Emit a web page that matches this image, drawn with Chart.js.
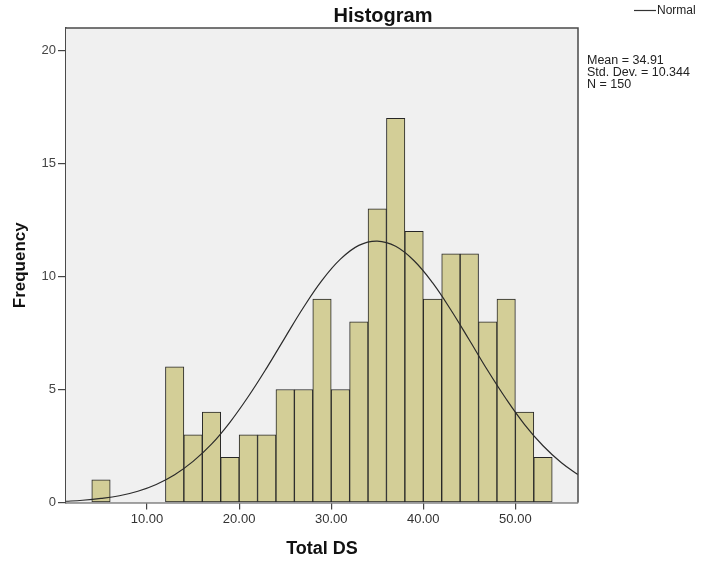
<!DOCTYPE html>
<html>
<head>
<meta charset="utf-8">
<script src="https://cdn.jsdelivr.net/npm/chart.js@4.4.0/dist/chart.umd.min.js"></script>
<style>
  html, body { margin: 0; padding: 0; background: #ffffff; }
  #wrap { width: 701px; height: 561px; }
</style>
</head>
<body>
<div id="wrap"><canvas id="c" width="701" height="561"></canvas></div>
<script>
// ---- Data ----
const binCenters = [5, 7, 9, 11, 13, 15, 17, 19, 21, 23, 25, 27, 29, 31, 33, 35, 37, 39, 41, 43, 45, 47, 49, 51, 53];
const binCounts  = [1, 0, 0, 0, 6, 3, 4, 2, 3, 3, 5, 5, 9, 5, 8, 13, 17, 12, 9, 11, 11, 8, 9, 4, 2];
const curveX = [1, 3, 5, 7, 9, 11, 13, 15, 17, 19, 21, 23, 25, 27, 29, 31, 33, 35, 37, 39, 41, 43, 45, 47, 49, 51, 53, 55, 57];
const curveY = [0.05, 0.10, 0.18, 0.30, 0.50, 0.80, 1.23, 1.82, 2.58, 3.55, 4.69, 5.96, 7.31, 8.64, 9.83, 10.77, 11.38, 11.57, 11.34, 10.70, 9.73, 8.52, 7.19, 5.84, 4.58, 3.45, 2.51, 1.76, 1.18];
const xTicks = [10, 20, 30, 40, 50];
const yTicks = [0, 5, 10, 15, 20];
const statLines = ["Mean = 34.91", "Std. Dev. = 10.344", "N = 150"];
const chartTitle = "Histogram";
const xTitle = "Total DS";
const yTitle = "Frequency";
const legendLabel = "Normal";

const barData = binCenters.map((x, i) => ({ x: x, y: binCounts[i] })).filter(p => p.y > 0);
const lineData = curveX.map((x, i) => ({ x: x, y: curveY[i] }));

const FONT = "'Liberation Sans', Arial, sans-serif";

const decor = {
  id: 'decor',
  beforeDatasetsDraw(chart) {
    const { ctx, chartArea: a } = chart;
    ctx.save();
    ctx.fillStyle = '#f0f0f0';
    ctx.fillRect(a.left, a.top, a.right - a.left, a.bottom - a.top);
    ctx.restore();
  },
  afterDraw(chart) {
    const { ctx, chartArea: a } = chart;
    ctx.save();
    // frame top & right
    ctx.strokeStyle = '#4a4a4a';
    ctx.lineWidth = 1.5;
    ctx.beginPath();
    ctx.moveTo(a.left, a.top);
    ctx.lineTo(a.right, a.top);
    ctx.lineTo(a.right, a.bottom);
    ctx.stroke();
    // title
    ctx.fillStyle = '#111';
    ctx.font = "bold 20px " + FONT;
    ctx.textAlign = 'center';
    ctx.textBaseline = 'alphabetic';
    ctx.fillText(chartTitle, 383, 22);
    // legend
    ctx.strokeStyle = '#333';
    ctx.lineWidth = 1.2;
    ctx.beginPath();
    ctx.moveTo(634, 10.5);
    ctx.lineTo(656, 10.5);
    ctx.stroke();
    ctx.font = "12px " + FONT;
    ctx.textAlign = 'left';
    ctx.textBaseline = 'middle';
    ctx.fillStyle = '#222';
    ctx.fillText(legendLabel, 657, 11);
    // stats
    ctx.font = "12.5px " + FONT;
    statLines.forEach((s, i) => ctx.fillText(s, 587, 61 + i * 12));
    ctx.restore();
  }
};

new Chart(document.getElementById('c'), {
  type: 'bar',
  data: {
    datasets: [
      {
        type: 'line',
        data: lineData,
        borderColor: '#2b2b2b',
        borderWidth: 1.2,
        pointRadius: 0,
        tension: 0.4,
        fill: false,
        order: 0
      },
      {
        type: 'bar',
        data: barData,
        backgroundColor: '#d3ce97',
        borderColor: '#262626',
        borderWidth: 1,
        borderSkipped: false,
        barPercentage: 1.0,
        categoryPercentage: 1.0,
        order: 1
      }
    ]
  },
  options: {
    responsive: false,
    animation: false,
    events: [],
    layout: { padding: { left: 0, top: 28, right: 123, bottom: 0 } },
    plugins: { legend: { display: false }, tooltip: { enabled: false }, title: { display: false } },
    scales: {
      x: {
        type: 'linear',
        min: 1.2,
        max: 56.8,
        offset: false,
        afterFit(s) { s.height = 58.5; },
        afterBuildTicks(s) { s.ticks = xTicks.map(v => ({ value: v })); },
        grid: { offset: false, drawOnChartArea: false, drawTicks: true, tickLength: 7, color: '#444', lineWidth: 1.2 },
        border: { display: true, color: '#4a4a4a', width: 1.5 },
        ticks: {
          font: { family: FONT, size: 13 },
          color: '#333',
          padding: 2,
          maxRotation: 0,
          callback: v => Number(v).toFixed(2)
        },
        title: {
          display: true,
          text: xTitle,
          font: { family: FONT, size: 18, weight: 'bold' },
          color: '#111',
          padding: { top: 0, bottom: 1 }
        }
      },
      y: {
        min: 0,
        max: 21,
        afterFit(s) { s.width = 66; },
        afterBuildTicks(s) { s.ticks = yTicks.map(v => ({ value: v })); },
        grid: { offset: false, drawOnChartArea: false, drawTicks: true, tickLength: 8, color: '#444', lineWidth: 1.2 },
        border: { display: true, color: '#4a4a4a', width: 1.5 },
        ticks: {
          font: { family: FONT, size: 13 },
          color: '#444',
          padding: 2
        },
        title: {
          display: true,
          text: yTitle,
          font: { family: FONT, size: 17, weight: 'bold' },
          color: '#111',
          padding: { top: 10, bottom: 0 }
        }
      }
    }
  },
  plugins: [decor]
});
</script>
</body>
</html>
